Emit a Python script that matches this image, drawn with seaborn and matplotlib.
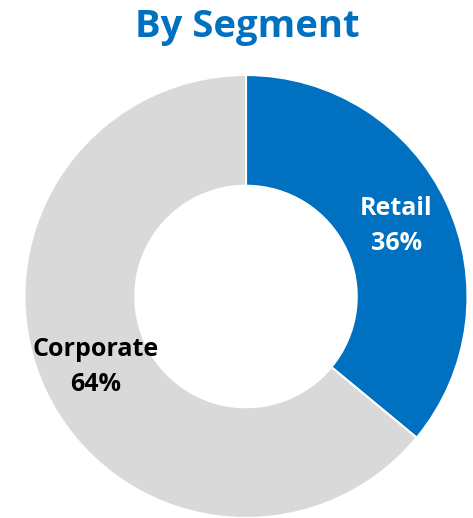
import matplotlib
matplotlib.use("Agg")
import matplotlib.pyplot as plt
import seaborn as sns
import numpy as np

sns.set_theme(style="white")
plt.rcParams["font.family"] = ["Open Sans", "DejaVu Sans"]

# Segment split
segments = ["Retail", "Corporate"]
shares = [36, 64]
seg_colors = ["#0070C0", "#D9D9D9"]
label_colors = ["white", "black"]

fig = plt.figure(figsize=(4.73, 5.18), dpi=100)
ax = fig.add_axes([24 / 473, 0.0, 444 / 473, 443 / 518])

wedges, _ = ax.pie(
    shares,
    colors=seg_colors,
    startangle=90,
    counterclock=False,
    radius=1.0,
    wedgeprops=dict(width=0.5, edgecolor="white", linewidth=1.5),
)

# Labels at the middle of each ring segment
for w, name, val, tc in zip(wedges, segments, shares, label_colors):
    ang = np.deg2rad((w.theta1 + w.theta2) / 2)
    r = 0.75
    ax.text(r * np.cos(ang), r * np.sin(ang), f"{name}\n{val}%",
            ha="center", va="center", fontsize=18, fontweight="bold",
            color=tc, linespacing=1.5)

ax.set_xlim(-1, 1)
ax.set_ylim(-1, 1)
ax.set_aspect("equal")
ax.axis("off")

fig.text(0.522, 0.948, "By Segment", ha="center", va="center",
         fontsize=27.5, fontweight="bold", color="#0070C0")

fig.savefig("out.png", dpi=100)
